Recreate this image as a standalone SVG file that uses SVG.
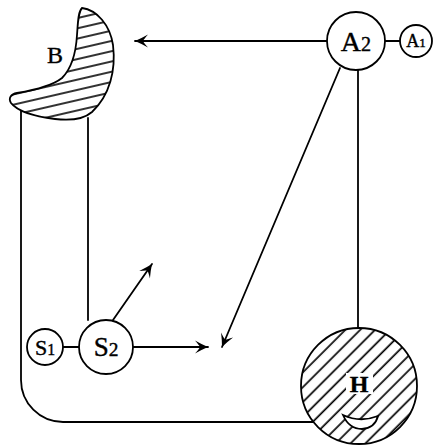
<svg xmlns="http://www.w3.org/2000/svg" width="444" height="447" viewBox="0 0 444 447">
  <defs>
    <style>
      .ln { fill: none; stroke: #000; stroke-width: 1.8; stroke-linecap: round; }
      .node { fill: #fff; stroke: #000; stroke-width: 1.8; }
      .lbl { font-family: "Liberation Serif", "DejaVu Serif", serif; fill: #000; stroke: #000; stroke-width: 0.4; text-anchor: middle; }
      .sub { font-size: 0.72em; }
    </style>
    <pattern id="hatchB" patternUnits="userSpaceOnUse" width="20" height="10" patternTransform="rotate(-13)">
      <rect width="20" height="10" fill="#fff"/>
      <line x1="0" y1="5" x2="20" y2="5" stroke="#000" stroke-width="1.6"/>
    </pattern>
    <pattern id="hatchH" patternUnits="userSpaceOnUse" width="20" height="10.5" patternTransform="rotate(-45)">
      <rect width="20" height="10.5" fill="#fff"/>
      <line x1="0" y1="5" x2="20" y2="5" stroke="#000" stroke-width="1.7"/>
    </pattern>
    <marker id="arr" viewBox="-14 -7 16 14" refX="0" refY="0" markerWidth="16" markerHeight="14" markerUnits="userSpaceOnUse" orient="auto">
      <path d="M0,0 Q-6,-2.5 -13,-6.5 Q-9,-2 -8,0 Q-9,2 -13,6.5 Q-6,2.5 0,0 Z" fill="#000"/>
    </marker>
  </defs>

  <g id="connectors">
    <path class="ln" d="M21,108 V380 A42,42 0 0 0 63,422 H313"/>
    <line class="ln" x1="88" y1="118" x2="88" y2="320"/>
    <line class="ln" x1="358" y1="69" x2="358" y2="328"/>
    <line class="ln" x1="327" y1="41" x2="135" y2="41" marker-end="url(#arr)"/>
    <line class="ln" x1="340" y1="68" x2="222" y2="347" marker-end="url(#arr)"/>
    <line class="ln" x1="113" y1="320" x2="152" y2="264" marker-end="url(#arr)"/>
    <line class="ln" x1="133" y1="347" x2="208" y2="347" marker-end="url(#arr)"/>
    <line class="ln" x1="63" y1="347" x2="79" y2="347"/>
    <line class="ln" x1="385" y1="41" x2="400" y2="41"/>
  </g>

  <g id="B">
    <path class="node" style="fill:url(#hatchB)" d="M82,8 C97,10 110,25 113,45 C116,70 110,95 92,112 C84,119 72,121 55,119 C38,117 18,112 11,103 C8,98 11,94 17,93 C35,90 52,86 62,78 C72,68 76,52 77,35 C78,22 78,12 82,8 Z"/>
    <text class="lbl" x="55" y="63" font-size="24">B</text>
  </g>

  <g id="A2">
    <circle class="node" cx="356" cy="41" r="29"/>
    <text class="lbl" x="356" y="51" font-size="28">A<tspan class="sub">2</tspan></text>
  </g>

  <g id="A1">
    <circle class="node" cx="416" cy="41" r="16"/>
    <text class="lbl" x="416" y="47" font-size="18">A<tspan class="sub">1</tspan></text>
  </g>

  <g id="S1">
    <circle class="node" cx="45" cy="347" r="18"/>
    <text class="lbl" x="45" y="355" font-size="22">S<tspan class="sub">1</tspan></text>
  </g>

  <g id="S2">
    <circle class="node" cx="106" cy="347" r="27"/>
    <text class="lbl" x="106" y="356" font-size="27">S<tspan class="sub">2</tspan></text>
  </g>

  <g id="H">
    <circle class="node" style="fill:url(#hatchH)" cx="359" cy="386" r="58"/>
    <rect x="346" y="373" width="27" height="21" fill="#fff"/>
    <text class="lbl" x="359" y="392" font-size="24" font-weight="bold">H</text>
    <path class="node" stroke-width="1.5" d="M343,415 Q360,423 378,416 Q375,428 362,429 Q349,429 343,415 Z"/>
  </g>
</svg>
